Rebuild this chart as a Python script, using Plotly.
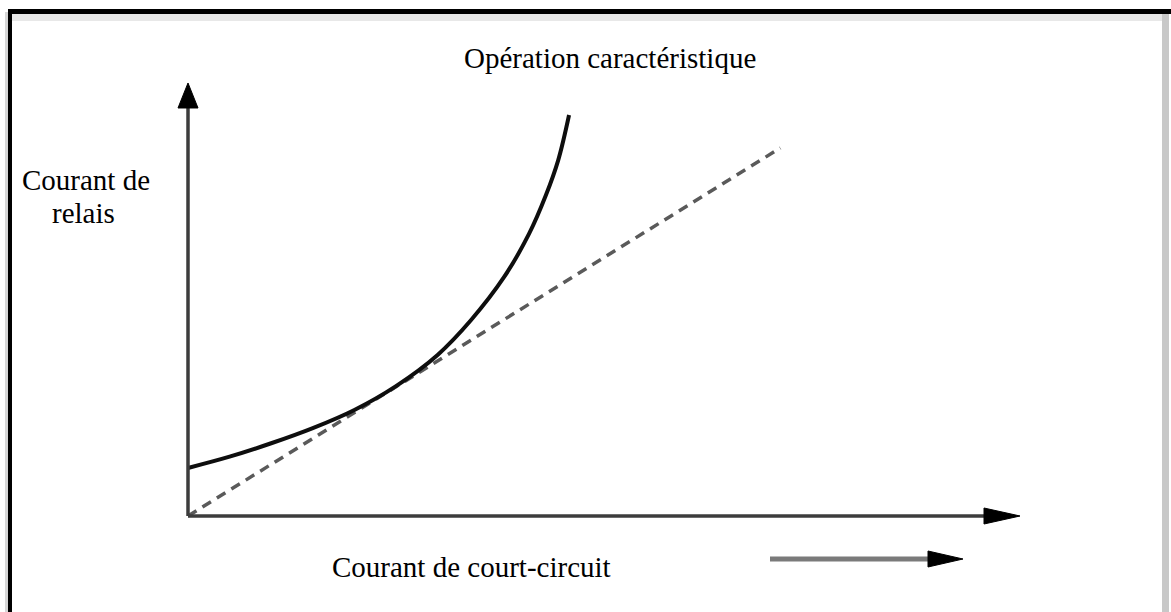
import plotly.graph_objects as go

# ---- data (abstract units: axes run 0..10) ----
curve_x = [0.0, 0.5, 1.0, 1.5, 2.0, 2.5, 3.0, 3.4, 3.8, 4.1, 4.3, 4.45, 4.58]
curve_y = [1.11, 1.37, 1.68, 2.03, 2.45, 3.00, 3.72, 4.52, 5.52, 6.52, 7.40, 8.22, 9.26]
dash_x = [0.0, 7.12]
dash_y = [0.0, 8.50]
axis_max = [10.0, 10.0]

title_text = "Opération caractéristique"
ylabel_lines = ["Courant de", "relais"]
xlabel_text = "Courant de court-circuit"

# ---- layout constants (pixels) ----
W, H = 1171, 612
X0, Y0 = 188, 516      # origin pixel
SX, SY = 83.2, 43.3    # pixels per unit

def px(x):
    return x / W

def py(y):
    return 1 - y / H

def to_px(xv, yv):
    return X0 + xv * SX, Y0 - yv * SY

def path(points):
    return "M " + " L ".join(f"{px(a):.5f},{py(b):.5f}" for a, b in points) + " Z"

FONT = "Liberation Serif, Times New Roman, serif"

fig = go.Figure()
fig.add_trace(go.Scatter(x=dash_x, y=dash_y, mode="lines",
                         line=dict(color="#5a5a5a", width=3.5, dash="10px,7px"),
                         hoverinfo="skip", showlegend=False))
fig.add_trace(go.Scatter(x=curve_x, y=curve_y, mode="lines",
                         line=dict(color="#0e0e0e", width=4, shape="spline", smoothing=1.0),
                         hoverinfo="skip", showlegend=False))

shapes = []
# frame: top black line, left black line, shadows
shapes.append(dict(type="rect", xref="paper", yref="paper", x0=px(12), x1=px(1162), y0=py(21), y1=py(14),
                   fillcolor="#e8e8e8", line=dict(width=0), layer="below"))
shapes.append(dict(type="rect", xref="paper", yref="paper", x0=px(1162), x1=px(1169), y0=py(612), y1=py(14),
                   fillcolor="#c8c8c8", line=dict(width=0), layer="below"))
shapes.append(dict(type="rect", xref="paper", yref="paper", x0=px(5), x1=px(8), y0=py(612), y1=py(12),
                   fillcolor="#d6d6d6", line=dict(width=0), layer="below"))
shapes.append(dict(type="rect", xref="paper", yref="paper", x0=px(8), x1=px(W), y0=py(14), y1=py(9),
                   fillcolor="black", line=dict(width=0)))
shapes.append(dict(type="rect", xref="paper", yref="paper", x0=px(8), x1=px(12), y0=py(612), y1=py(9),
                   fillcolor="black", line=dict(width=0)))

# axes shafts (data coords)
shapes.append(dict(type="line", xref="x", yref="y", x0=0, y0=0, x1=0, y1=axis_max[1] - 0.4,
                   line=dict(color="#3c3c3c", width=3.5)))
shapes.append(dict(type="line", xref="x", yref="y", x0=0, y0=0, x1=axis_max[0] - 0.3, y1=0,
                   line=dict(color="#3c3c3c", width=3.5)))
# arrowheads
tx, ty = to_px(0, axis_max[1])
shapes.append(dict(type="path", xref="paper", yref="paper",
                   path=path([(tx, ty), (tx - 10, ty + 25), (tx + 10, ty + 25)]),
                   fillcolor="black", line=dict(color="black", width=1)))
tx, ty = to_px(axis_max[0], 0)
shapes.append(dict(type="path", xref="paper", yref="paper",
                   path=path([(tx, ty), (tx - 36, ty - 8), (tx - 36, ty + 8)]),
                   fillcolor="black", line=dict(color="black", width=1)))
# small arrow under the x label
shapes.append(dict(type="line", xref="paper", yref="paper", x0=px(770), y0=py(559), x1=px(932), y1=py(559),
                   line=dict(color="#7a7a7a", width=5)))
shapes.append(dict(type="path", xref="paper", yref="paper",
                   path=path([(963, 559), (928, 551), (928, 567)]),
                   fillcolor="black", line=dict(color="black", width=1)))

fig.update_layout(shapes=shapes)

annotations = []
annotations.append(dict(x=px(610), y=py(58), xref="paper", yref="paper", text=title_text,
                        showarrow=False, font=dict(family=FONT, size=29, color="black"),
                        xanchor="center", yanchor="middle"))
annotations.append(dict(x=px(86), y=py(180), xref="paper", yref="paper", text=ylabel_lines[0],
                        showarrow=False, font=dict(family=FONT, size=29, color="black"),
                        xanchor="center", yanchor="middle"))
annotations.append(dict(x=px(83), y=py(213), xref="paper", yref="paper", text=ylabel_lines[1],
                        showarrow=False, font=dict(family=FONT, size=29, color="black"),
                        xanchor="center", yanchor="middle"))
annotations.append(dict(x=px(471), y=py(567), xref="paper", yref="paper", text=xlabel_text,
                        showarrow=False, font=dict(family=FONT, size=29, color="black"),
                        xanchor="center", yanchor="middle"))
fig.update_layout(annotations=annotations)

fig.update_layout(
    width=W, height=H,
    margin=dict(l=0, r=0, t=0, b=0),
    paper_bgcolor="white", plot_bgcolor="white",
    xaxis=dict(range=[-X0 / SX, (W - X0) / SX], visible=False, fixedrange=True),
    yaxis=dict(range=[-(H - Y0) / SY, Y0 / SY], visible=False, fixedrange=True),
    showlegend=False,
)

fig.write_html("out.html", config={"displayModeBar": False},
               post_script="document.body.style.margin='0px';document.body.style.overflow='hidden';")
